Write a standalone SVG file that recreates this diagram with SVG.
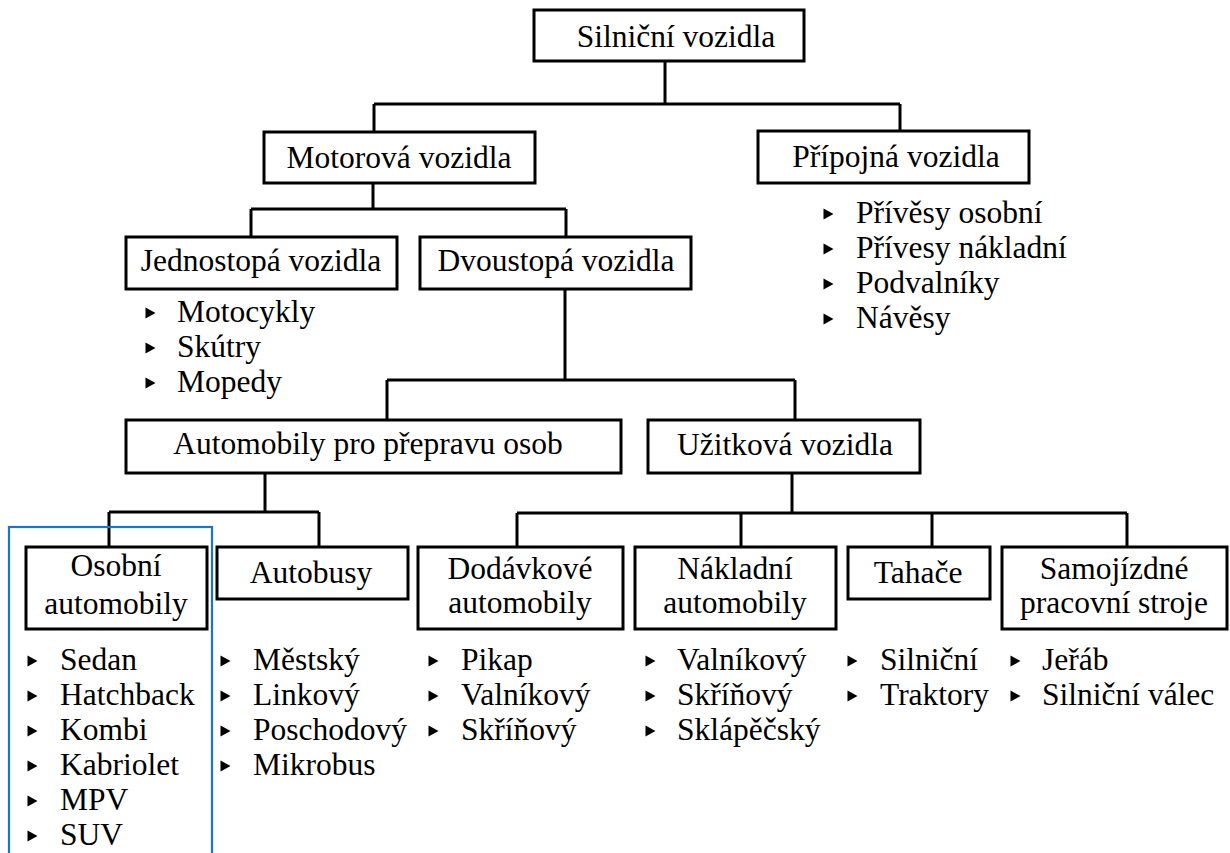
<svg xmlns="http://www.w3.org/2000/svg" width="1230" height="853" viewBox="0 0 1230 853">
<defs>
<style>
.box{fill:#fff;stroke:#000;stroke-width:3}
.conn{fill:none;stroke:#000;stroke-width:3}
text{font-family:"Liberation Serif","Times New Roman",serif;font-size:31.5px;fill:#000}
.c{text-anchor:middle}
.sel{fill:none;stroke:#1a74c7;stroke-width:2.2}
</style>
<path id="b" d="M-4.5,-5.5 L5.5,0 L-4.5,5.5 Z" fill="#000"/>
</defs>
<rect width="1230" height="853" fill="#fff"/>
<g id="connectors" class="conn">
<path d="M665,61 V104 M374,104 H900 M374,104 V131 M900,104 V130"/>
<path d="M373,183 V209 M251,209 H566 M251,209 V237 M566,209 V237"/>
<path d="M565,289 V380 M387,380 H795 M387,380 V420 M795,380 V420"/>
<path d="M265,473 V512 M109,512 H319 M109,512 V547 M319,512 V547"/>
<path d="M792,473 V513 M517,513 H1127 M517,513 V547 M741,513 V547 M932,513 V547 M1127,513 V547"/>
</g>
<rect id="selection" class="sel" x="9" y="527" width="203" height="340"/>
<g id="silnicni">
<rect class="box" x="534" y="10" width="270" height="51"/>
<text class="c" x="676" y="47">Silniční vozidla</text>
</g>
<g id="motorova">
<rect class="box" x="264" y="132" width="271" height="51"/>
<text class="c" x="399" y="168">Motorová vozidla</text>
</g>
<g id="pripojna">
<rect class="box" x="758" y="131" width="271" height="52"/>
<text class="c" x="896" y="167">Přípojná vozidla</text>
<use href="#b" x="828" y="214"/><text x="856" y="223">Přívěsy osobní</text>
<use href="#b" x="828" y="249"/><text x="856" y="258">Přívesy nákladní</text>
<use href="#b" x="828" y="284"/><text x="856" y="293">Podvalníky</text>
<use href="#b" x="828" y="319"/><text x="856" y="328">Návěsy</text>
</g>
<g id="jednostopa">
<rect class="box" x="126" y="237" width="271" height="52"/>
<text class="c" x="261" y="271">Jednostopá vozidla</text>
<use href="#b" x="150" y="313"/><text x="177" y="322">Motocykly</text>
<use href="#b" x="150" y="348"/><text x="177" y="357">Skútry</text>
<use href="#b" x="150" y="383"/><text x="177" y="392">Mopedy</text>
</g>
<g id="dvoustopa">
<rect class="box" x="420" y="237" width="271" height="52"/>
<text class="c" x="556" y="271">Dvoustopá vozidla</text>
</g>
<g id="automobily">
<rect class="box" x="126" y="420" width="495" height="53"/>
<text class="c" x="368" y="454">Automobily pro přepravu osob</text>
</g>
<g id="uzitkova">
<rect class="box" x="648" y="420" width="272" height="53"/>
<text class="c" x="785" y="455">Užitková vozidla</text>
</g>
<g id="osobni">
<rect class="box" x="26" y="547" width="181" height="82"/>
<text class="c" x="116" y="576">Osobní</text>
<text class="c" x="116" y="614">automobily</text>
<use href="#b" x="32" y="661"/><text x="60" y="670">Sedan</text>
<use href="#b" x="32" y="696"/><text x="60" y="705">Hatchback</text>
<use href="#b" x="32" y="731"/><text x="60" y="740">Kombi</text>
<use href="#b" x="32" y="766"/><text x="60" y="775">Kabriolet</text>
<use href="#b" x="32" y="801"/><text x="60" y="810">MPV</text>
<use href="#b" x="32" y="836"/><text x="60" y="845">SUV</text>
</g>
<g id="autobusy">
<rect class="box" x="217" y="547" width="191" height="52"/>
<text class="c" x="311" y="583">Autobusy</text>
<use href="#b" x="225" y="661"/><text x="253" y="670">Městský</text>
<use href="#b" x="225" y="696"/><text x="253" y="705">Linkový</text>
<use href="#b" x="225" y="731"/><text x="253" y="740">Poschodový</text>
<use href="#b" x="225" y="766"/><text x="253" y="775">Mikrobus</text>
</g>
<g id="dodavkove">
<rect class="box" x="418" y="547" width="205" height="82"/>
<text class="c" x="520" y="579">Dodávkové</text>
<text class="c" x="520" y="613">automobily</text>
<use href="#b" x="433" y="661"/><text x="461" y="670">Pikap</text>
<use href="#b" x="433" y="696"/><text x="461" y="705">Valníkový</text>
<use href="#b" x="433" y="731"/><text x="461" y="740">Skříňový</text>
</g>
<g id="nakladni">
<rect class="box" x="635" y="547" width="201" height="82"/>
<text class="c" x="735" y="579">Nákladní</text>
<text class="c" x="735" y="613">automobily</text>
<use href="#b" x="650" y="661"/><text x="677" y="670">Valníkový</text>
<use href="#b" x="650" y="696"/><text x="677" y="705">Skříňový</text>
<use href="#b" x="650" y="731"/><text x="677" y="740">Sklápěčský</text>
</g>
<g id="tahace">
<rect class="box" x="848" y="547" width="142" height="52"/>
<text class="c" x="918" y="583">Tahače</text>
<use href="#b" x="852" y="661"/><text x="880" y="670">Silniční</text>
<use href="#b" x="852" y="696"/><text x="880" y="705">Traktory</text>
</g>
<g id="samojizdne">
<rect class="box" x="1002" y="547" width="225" height="82"/>
<text class="c" x="1114" y="579">Samojízdné</text>
<text class="c" x="1114" y="613">pracovní stroje</text>
<use href="#b" x="1015" y="661"/><text x="1042" y="670">Jeřáb</text>
<use href="#b" x="1015" y="696"/><text x="1042" y="705">Silniční válec</text>
</g>
</svg>
